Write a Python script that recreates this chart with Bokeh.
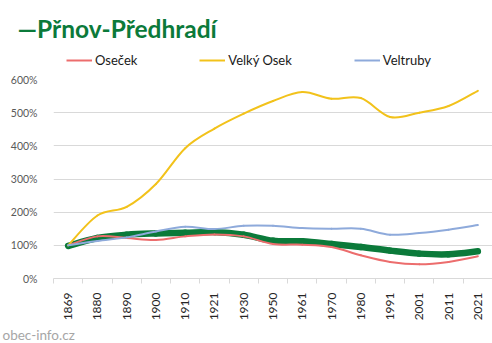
import math
from bokeh.plotting import figure
from bokeh.layouts import column
from bokeh.models import (Range1d, FixedTicker, Title, Legend, LegendItem,
                          PrintfTickFormatter)
from bokeh.embed import file_html
from bokeh.resources import INLINE

years = ["1869", "1880", "1890", "1900", "1910", "1921", "1930", "1950",
         "1961", "1970", "1980", "1991", "2001", "2011", "2021"]
prnov = [98, 122, 132, 136, 138, 140, 132, 114, 112, 104, 95, 84, 75, 73, 82]
osecek = [100, 127, 122, 116, 127, 133, 127, 104, 102, 95, 70, 50, 43, 50, 67]
velky_osek = [100, 190, 216, 285, 393, 452, 497, 535, 562, 542, 544, 487, 500, 520, 566]
veltruby = [100, 113, 124, 142, 156, 149, 159, 159, 152, 150, 150, 132, 137, 147, 161]
y_ticks = [0, 100, 200, 300, 400, 500, 600]

FONT = "Lato"
W, H = 492, 343
HEAD = 70          # header height (title + legend)
TOP_PAD = 9        # main figure space above 600 %

# ---------- header: title + legend ----------
head = figure(width=W, height=HEAD, output_backend="svg", toolbar_location=None,
              x_range=Range1d(0, 1), y_range=Range1d(0, 1),
              x_axis_location=None, y_axis_location=None,
              min_border=0, min_border_top=42)
head.outline_line_color = None
head.xgrid.grid_line_color = None
head.ygrid.grid_line_color = None
head.background_fill_color = "white"
head.border_fill_color = "white"
head.title.text = "—Přnov-Předhradí"
head.title.align = "left"
head.title.offset = -36
head.title.standoff = 0
head.title.text_font = FONT
head.title.text_font_style = "bold"
head.title.text_font_size = "24.5px"
head.title.text_color = "#0b7a3a"

# ---------- main chart ----------
p = figure(width=W, height=H - HEAD, output_backend="svg", toolbar_location=None,
           x_range=Range1d(-0.5, len(years) - 0.5), y_range=Range1d(0, 600),
           min_border_left=53, min_border_right=0, min_border_top=TOP_PAD,
           min_border_bottom=62)
p.outline_line_color = None
p.background_fill_color = "white"
p.border_fill_color = "white"

xa = p.xaxis[0]
xa.ticker = FixedTicker(ticks=list(range(len(years))),
                        minor_ticks=[i - 0.5 for i in range(len(years) + 1)])
xa.major_label_overrides = {i: y for i, y in enumerate(years)}
xa.major_label_orientation = math.pi / 2
xa.major_tick_line_color = None
xa.major_tick_out = 0
xa.major_tick_in = 0
xa.minor_tick_line_color = "#d9d9d9"
xa.minor_tick_out = 5
xa.minor_tick_in = 0
xa.axis_line_color = "#d9d9d9"
xa.major_label_text_font = FONT
xa.major_label_text_font_size = "12px"
xa.major_label_text_color = "#262626"
xa.major_label_standoff = 9

ya = p.yaxis[0]
ya.ticker = FixedTicker(ticks=y_ticks)
ya.formatter = PrintfTickFormatter(format="%d%%")
ya.axis_line_color = None
ya.major_tick_line_color = None
ya.minor_tick_line_color = None
ya.major_label_text_font = FONT
ya.major_label_text_font_size = "10.5px"
ya.major_label_text_color = "#595959"
ya.major_label_standoff = 10

p.xgrid.grid_line_color = None
p.ygrid.ticker = FixedTicker(ticks=y_ticks)
p.ygrid.grid_line_color = "#d9d9d9"


def smooth(vals):
    n = len(vals)
    pts = [(float(i), float(v)) for i, v in enumerate(vals)]
    d = dict(x0=[], y0=[], x1=[], y1=[], cx0=[], cy0=[], cx1=[], cy1=[])
    for i in range(n - 1):
        p0 = pts[i - 1] if i > 0 else pts[i]
        p1 = pts[i]
        p2 = pts[i + 1]
        p3 = pts[i + 2] if i + 2 < n else pts[i + 1]
        d["x0"].append(p1[0]); d["y0"].append(p1[1])
        d["x1"].append(p2[0]); d["y1"].append(p2[1])
        d["cx0"].append(p1[0] + (p2[0] - p0[0]) / 6)
        d["cy0"].append(p1[1] + (p2[1] - p0[1]) / 6)
        d["cx1"].append(p2[0] - (p3[0] - p1[0]) / 6)
        d["cy1"].append(p2[1] - (p3[1] - p1[1]) / 6)
    return d


series = [
    ("Přnov-Předhradí", prnov, "#0b7a3a", 6.5),
    ("Oseček", osecek, "#ec6d6d", 2),
    ("Velký Osek", velky_osek, "#f2c21b", 2),
    ("Veltruby", veltruby, "#8eaadb", 2),
]
legend_items = []
for name, vals, color, lw in series:
    p.bezier(source=smooth(vals), x0="x0", y0="y0", x1="x1", y1="y1",
             cx0="cx0", cy0="cy0", cx1="cx1", cy1="cy1",
             line_color=color, line_width=lw, line_cap="round")
    if name != "Přnov-Předhradí":
        # legend-only renderer in the header (no visible data)
        r = head.line(x=[float("nan")], y=[float("nan")], line_color=color,
                      line_width=2)
        legend_items.append(LegendItem(label=name, renderers=[r]))

legend = Legend(items=legend_items, orientation="horizontal", location=(13, 2),
                glyph_width=26, glyph_height=14, label_standoff=3, spacing=62,
                padding=0, margin=0, border_line_color=None,
                background_fill_alpha=0, label_text_font=FONT,
                label_text_font_size="13px", label_text_color="#1a1a1a",
                label_height=16)
head.add_layout(legend, "center")

p.add_layout(Title(text="obec-info.cz", align="left", offset=-51, standoff=2,
                   text_font=FONT, text_font_style="normal",
                   text_font_size="13.5px", text_color="#a6a6a6"), "below")

layout = column(head, p, spacing=0)
open("out.html", "w").write(file_html(layout, INLINE))
